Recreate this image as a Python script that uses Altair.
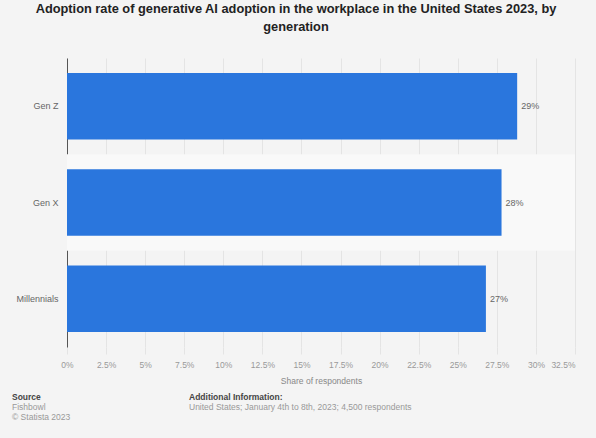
import altair as alt
import pandas as pd

generations = ["Gen Z", "Gen X", "Millennials"]
shares = [0.288, 0.278, 0.268]
tick_values = [0, 0.025, 0.05, 0.075, 0.1, 0.125, 0.15, 0.175, 0.2, 0.225, 0.25, 0.275, 0.3, 0.325]

title_line1 = "Adoption rate of generative AI adoption in the workplace in the United States 2023, by"
title_line2 = "generation"
source_head = "Source"
source_lines = ["Fishbowl", "© Statista 2023"]
info_head_text = "Additional Information:"
info_line = "United States; January 4th to 8th, 2023; 4,500 respondents"

df = pd.DataFrame({"gen": generations, "share": shares})

W, H = 508, 289
LEFT, TOP = 67, 58
BG = "#f4f4f4"
FONT = "Liberation Sans"

y_scale = alt.Scale(domain=generations, paddingInner=0.31, paddingOuter=0.155)
y_axis = alt.Axis(
    title=None,
    domain=True,
    domainColor="#555555",
    domainWidth=1,
    ticks=False,
    grid=False,
    labelFont=FONT,
    labelFontSize=9,
    labelColor="#666666",
    labelPadding=9,
)
x_scale = alt.Scale(domain=[0, 0.325], nice=False, zero=True)
x_axis = alt.Axis(
    values=tick_values,
    format=".1~%",
    title="Share of respondents",
    titleFont=FONT,
    titleFontSize=8.5,
    titleFontWeight="normal",
    titleColor="#888888",
    titlePadding=8,
    labelFont=FONT,
    labelFontSize=8.5,
    labelColor="#999999",
    labelPadding=6,
    labelOverlap=False,
    labelAlign=alt.expr("datum.value > 0.32 ? 'right' : 'center'"),
    domain=False,
    ticks=True,
    tickColor="#e4e4e4",
    tickSize=7,
    grid=True,
    gridColor="#e4e4e4",
    gridWidth=1,
)

base = alt.Chart(df)

bars = base.mark_bar(color="#2a76dd").encode(
    x=alt.X("share:Q", scale=x_scale, axis=x_axis),
    y=alt.Y("gen:N", scale=y_scale, axis=y_axis),
)

shade = base.transform_filter("datum.gen == 'Gen X'").transform_calculate(
    x0="0", x1="0.325"
).mark_bar(color="#f9f9f9", height={"band": 1 / 0.69}).encode(
    x=alt.X("x0:Q", scale=x_scale, axis=x_axis),
    x2="x1:Q",
    y=alt.Y("gen:N", scale=y_scale, axis=y_axis),
)

labels = base.mark_text(
    align="left", baseline="middle", dx=4, font=FONT, fontSize=9, color="#666666"
).encode(
    x=alt.X("share:Q", scale=x_scale, axis=x_axis),
    y=alt.Y("gen:N", scale=y_scale, axis=y_axis),
    text=alt.Text("share:Q", format=".0%"),
)


def note(text, x, y, size=8.5, bold=False, color="#999999", align="left"):
    return alt.Chart(pd.DataFrame({"t": [text]})).mark_text(
        font=FONT, fontSize=size, fontWeight="bold" if bold else "normal",
        color=color, align=align, baseline="middle"
    ).encode(x=alt.value(x - LEFT), y=alt.value(y - TOP), text="t:N")


title1 = note(title_line1, 296, 9, size=12.8, bold=True, color="#222222", align="center")
title2 = note(title_line2, 296, 27, size=12.8, bold=True, color="#222222", align="center")
src_h = note(source_head, 12, 397, bold=True, color="#444444")
src_1 = note(source_lines[0], 12, 407)
src_2 = note(source_lines[1], 12, 417)
info_h = note(info_head_text, 189, 397, bold=True, color="#444444")
info_1 = note(info_line, 189, 407)

chart = alt.layer(
    shade, bars, labels, title1, title2, src_h, src_1, src_2, info_h, info_1
).properties(
    width=W,
    height=H,
    background=BG,
    padding={"left": LEFT, "top": TOP, "right": 21, "bottom": 91},
    autosize=alt.AutoSizeParams(type="none"),
).configure_view(stroke=None, fill=BG)

chart.save("out.html", embed_options={"renderer": "svg", "actions": False})
